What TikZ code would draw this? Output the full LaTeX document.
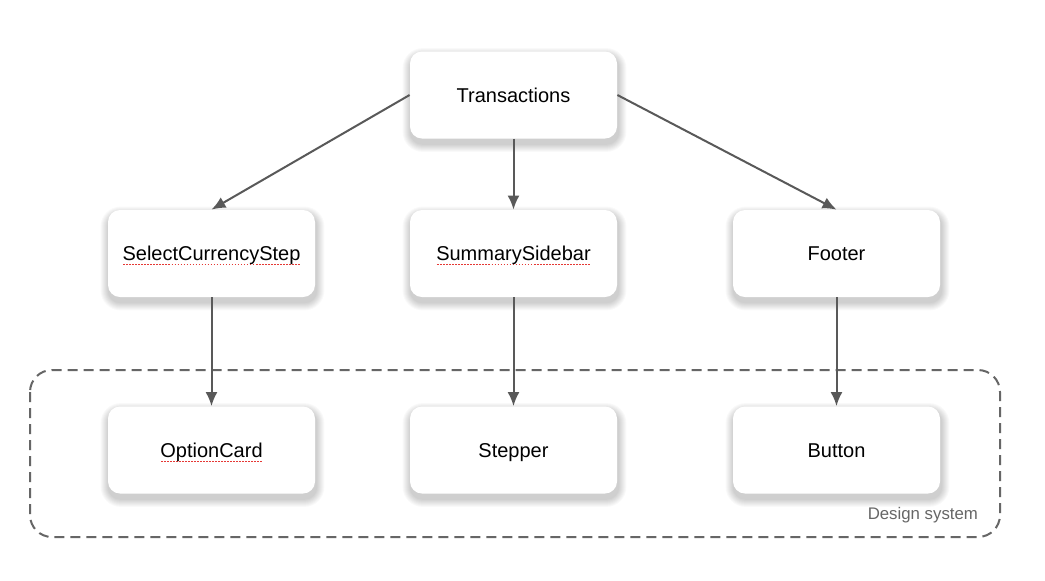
\documentclass[tikz,border=0pt]{standalone}
\usepackage{fontspec}
\setmainfont{Liberation Sans}
\usetikzlibrary{arrows.meta, backgrounds}

\definecolor{linegray}{HTML}{595959}
\definecolor{framegray}{HTML}{666666}
\definecolor{spellred}{HTML}{E53935}

% red dotted spell-check line under a label
\newcommand{\spelldot}{\hbox to 1.5pt{\hss\textcolor{spellred}{\rule{0.8pt}{0.5pt}}\hss}}
\newcommand{\spellmark}[1]{\setbox0\hbox{#1}\leavevmode\rlap{\raisebox{-2.4pt}{\hbox to \wd0{\xleaders\spelldot\hfill}}}\box0}

\tikzset{
	comp/.style = {fill = white, rounded corners = 6pt, minimum width = 103.5pt, minimum height = 43.5pt,
		text height = 7.5pt, text depth = 0.5pt, font = \fontsize{10}{12}\selectfont},
	link/.style = {-{Latex[length = 7pt, width = 6pt]}, line width = 1pt, linegray}
}

\begin{document}
\begin{tikzpicture}[x = 0.5pt, y = -0.5pt]

	\useasboundingbox (0, 0) rectangle (1045, 580);

	% Design system frame
	
	\draw [framegray, line width = 1pt, dash pattern = on 5pt off 3pt, rounded corners = 11pt] (30, 370) rectangle (1000, 537);
	\node (dslabel) [anchor = east, text = framegray, font = \fontsize{8.4}{10}\selectfont] at (985, 515) {Design system};
	
	% Components
	
	\node (trans) [comp] at (513.5, 95) {Transactions};
	
	\node (select) [comp] at (211.5, 253.5) {\spellmark{SelectCurrencyStep}};
	\node (summary) [comp] at (513.5, 253.5) {\spellmark{SummarySidebar}};
	\node (footer) [comp] at (836.5, 253.5) {Footer};
	
	\node (option) [comp] at (211.5, 450) {\spellmark{OptionCard}};
	\node (stepper) [comp] at (513.5, 450) {Stepper};
	\node (button) [comp] at (836.5, 450) {Button};
	
	% White page and soft shadows under the cards
	
	\begin{scope}[on background layer]
		\fill [white] (0, 0) rectangle (1045, 580);
		\foreach \n in {trans, select, summary, footer, option, stepper, button}
			\foreach \g in {0.5, 1.0, ..., 4.0} {
				\pgfmathsetmacro{\rad}{6 + \g}
				\fill [black, fill opacity = 0.024, rounded corners = \rad pt]
					([shift = {(-\g pt + 0.5pt, -\g pt - 2.5pt)}] \n.south west) rectangle
					([shift = {(\g pt + 0.5pt, \g pt - 2.5pt)}] \n.north east);
			}
	\end{scope}
	
	% Uses
	
	\begin{scope}[link]
	
		\draw (trans.west) -- (select.north);
		\draw (trans.south) -- (summary.north);
		\draw (trans.east) -- (footer.north);
		
		\draw (select.south) -- (option.north);
		\draw (summary.south) -- (stepper.north);
		\draw (footer.south) -- (button.north);

	\end{scope}

\end{tikzpicture}
\end{document}
